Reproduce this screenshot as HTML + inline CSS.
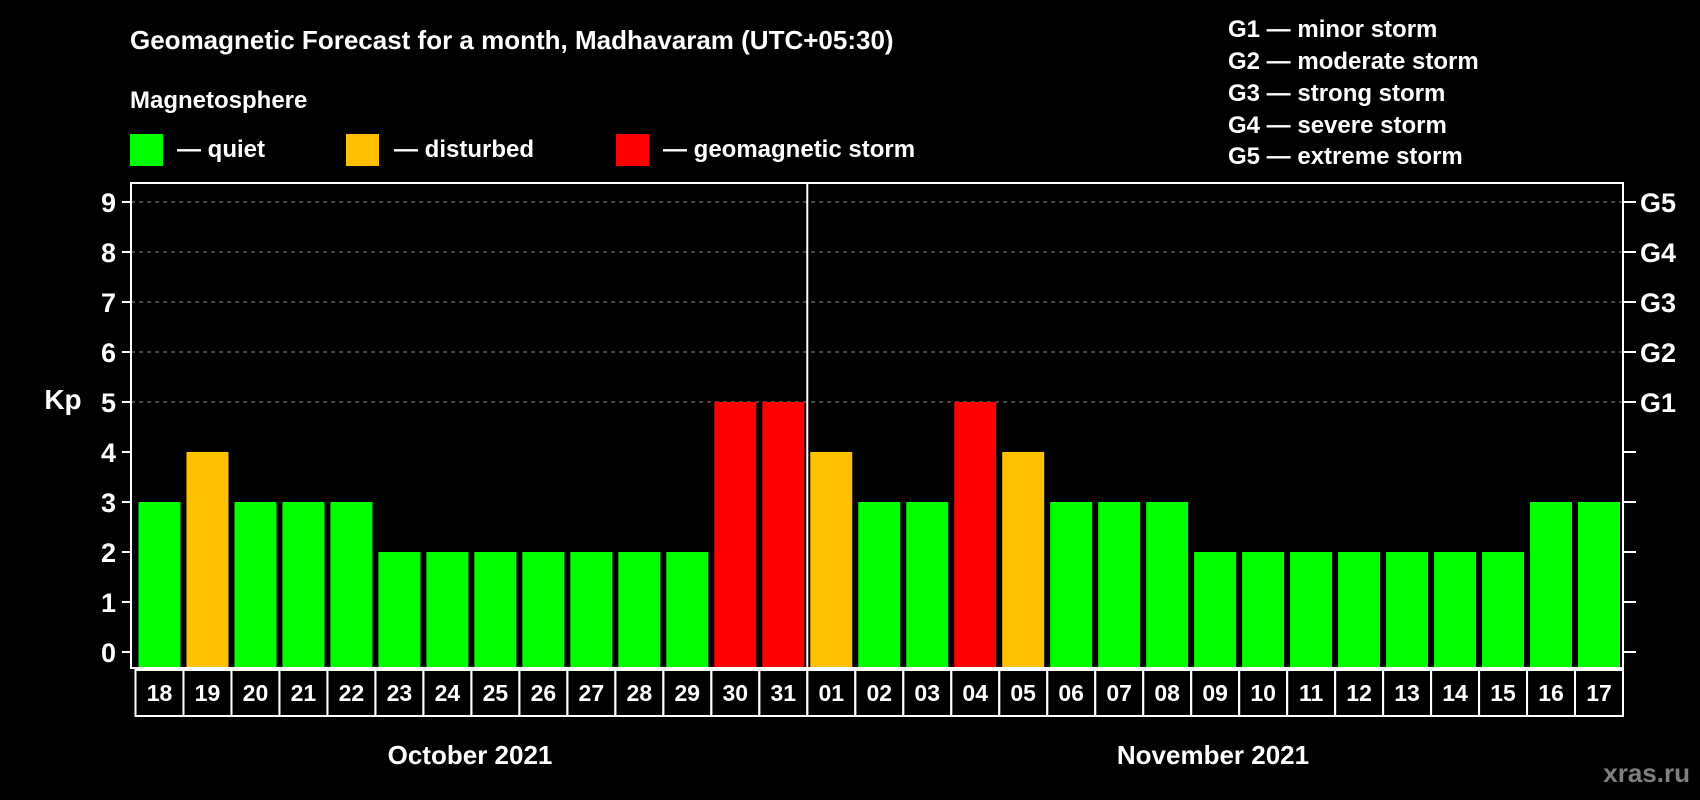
<!DOCTYPE html>
<html><head><meta charset="utf-8"><style>
html,body{margin:0;padding:0;background:#000;width:1700px;height:800px;overflow:hidden}
svg{display:block;font-family:"Liberation Sans",Arial,sans-serif;font-weight:bold}
</style></head><body>
<svg id="c" width="1700" height="800" viewBox="0 0 1700 800">
<text x="130" y="49" fill="#fff" font-size="26">Geomagnetic Forecast for a month, Madhavaram (UTC+05:30)</text>
<text x="130" y="108" fill="#fff" font-size="24">Magnetosphere</text>
<g><rect x="130" y="134" width="33" height="32" fill="#00ff00"/><text x="177" y="157" fill="#fff" font-size="24">— quiet</text></g>
<g><rect x="346" y="134" width="33" height="32" fill="#ffc000"/><text x="394" y="157" fill="#fff" font-size="24">— disturbed</text></g>
<g><rect x="616" y="134" width="33" height="32" fill="#ff0000"/><text x="663" y="157" fill="#fff" font-size="24">— geomagnetic storm</text></g>
<g fill="#fff" font-size="24">
<text x="1228" y="37">G1 — minor storm</text>
<text x="1228" y="69">G2 — moderate storm</text>
<text x="1228" y="101">G3 — strong storm</text>
<text x="1228" y="133">G4 — severe storm</text>
<text x="1228" y="164">G5 — extreme storm</text>
</g>
<text x="63" y="409" fill="#fff" font-size="28" text-anchor="middle">Kp</text>
<text x="470" y="764" fill="#fff" font-size="26" text-anchor="middle">October 2021</text>
<text x="1213" y="764" fill="#fff" font-size="26" text-anchor="middle">November 2021</text>
<text x="1690" y="782" fill="#808080" font-size="26" text-anchor="end">xras.ru</text>
<g id="plot"></g>
</svg>
<script>
const days=["18","19","20","21","22","23","24","25","26","27","28","29","30","31","01","02","03","04","05","06","07","08","09","10","11","12","13","14","15","16","17"];
const kp=[3,4,3,3,3,2,2,2,2,2,2,2,5,5,4,3,3,5,4,3,3,3,2,2,2,2,2,2,2,3,3];
const yTicks=[0,1,2,3,4,5,6,7,8,9];
const gLabels=["G1","G2","G3","G4","G5"];
const gLevels=[5,6,7,8,9];
const NS="http://www.w3.org/2000/svg";
const g=document.getElementById('plot');
const PL=131,PR=1623,PT=183,PB=668,CX0=135.5,CW=(PR-CX0)/days.length;
const y=v=>652-50*v;
const x=i=>CX0+CW*i;
function mk(t,a,p){const e=document.createElementNS(NS,t);for(const k in a)e.setAttribute(k,a[k]);(p||g).appendChild(e);return e;}
yTicks.forEach(v=>{
  if(v>=5){const l=mk('line',{x1:PL,x2:PR,y1:y(v),y2:y(v),stroke:'#888','stroke-dasharray':'4,4','stroke-width':1});
  
  }
  const t1=mk('line',{x1:PL-9,x2:PL,y1:y(v),y2:y(v),stroke:'#fff','stroke-width':2});
  
  
  const t2=mk('line',{x1:PR,x2:PR+13,y1:y(v),y2:y(v),stroke:'#fff','stroke-width':2});
  
  
  const tx=mk('text',{x:116,y:y(v)+10,fill:'#fff','font-size':27,'text-anchor':'end'});
  tx.textContent=v;
  
  
});
gLabels.forEach((s,i)=>{
  const t=mk('text',{x:1640,y:y(gLevels[i])+10,fill:'#fff','font-size':27});
  t.textContent=s;
  
  
});
kp.forEach((v,i)=>{
  const col=v>=5?'#ff0000':(v>=4?'#ffc000':'#00ff00');
  const r=mk('rect',{x:x(i)+3,y:y(v),width:CW-6,height:PB-y(v),fill:col});
  
  
  const b=mk('rect',{x:x(i),y:670,width:CW,height:46,fill:'none',stroke:'#fff','stroke-width':2});
  
  
  const t=mk('text',{x:x(i)+CW/2,y:701,fill:'#fff','font-size':23,'text-anchor':'middle'});
  t.textContent=days[i];
  
  
});
const fr=mk('rect',{x:PL,y:PT,width:PR-PL,height:PB-PT,fill:'none',stroke:'#fff','stroke-width':2});


const sep=mk('line',{x1:x(14),x2:x(14),y1:PT,y2:PB,stroke:'#fff','stroke-width':2});


</script>
</body></html>
